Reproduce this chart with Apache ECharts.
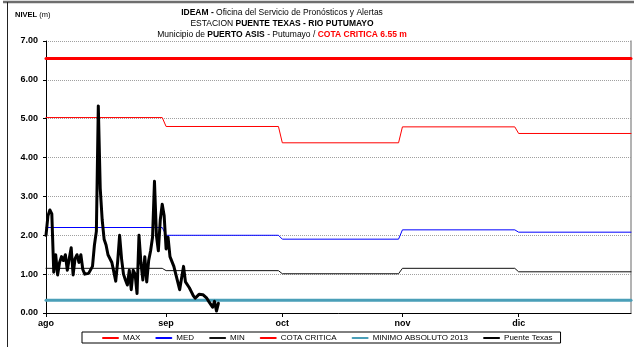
<!DOCTYPE html>
<html>
<head>
<meta charset="utf-8">
<script src="https://cdn.jsdelivr.net/npm/echarts@6/dist/echarts.min.js"></script>
<style>
  html, body { margin: 0; padding: 0; background: #ffffff; }
  #chart { width: 634px; height: 347px; }
</style>
</head>
<body>
<div id="chart"></div>
<script>
// Ejes: día 0 = 1 de agosto
const meses = ['ago', 'sep', 'oct', 'nov', 'dic'];
const inicioMes = [0, 31, 61, 92, 122];
const ultimoDia = 151;

// Niveles históricos mensuales (m)
const nivelMax = [5.03, 4.80, 4.38, 4.79, 4.62];
const nivelMed = [2.20, 2.00, 1.90, 2.14, 2.08];
const nivelMin = [1.15, 1.09, 1.01, 1.15, 1.06];

// Referencias fijas (m)
const cotaCritica = 6.55;
const minimoAbsoluto2013 = 0.33;

// Lecturas de la estación Puente Texas (dos lecturas diarias desde el 1 de agosto)
const lecturasPorDia = 2;
const puenteTexas = [
  2.00, 2.50, 2.65, 2.55, 1.05, 1.50, 0.98, 1.30, 1.45, 1.35,
  1.50, 1.10, 1.40, 1.68, 0.98, 1.40, 1.50, 1.30, 1.50, 1.12,
  1.00, 0.98, 1.02, 1.05, 1.20, 1.75, 2.10, 5.33, 3.20, 2.40,
  1.90, 1.75, 1.50, 1.55, 1.30, 1.30, 0.82, 1.32, 2.00, 1.40,
  1.00, 0.85, 0.72, 1.10, 0.60, 1.10, 1.00, 0.50, 2.00, 1.30,
  0.85, 1.45, 0.80, 1.35, 1.60, 1.95, 3.39, 2.00, 1.60, 2.40,
  2.80, 2.50, 1.65, 1.95, 1.45, 1.40, 1.20, 1.00, 0.80, 0.60,
  0.90, 1.20, 0.80, 0.85, 0.65, 0.55, 0.45, 0.38, 0.40, 0.48,
  0.50, 0.47, 0.42, 0.38, 0.30, 0.27, 0.15, 0.30, 0.05, 0.25
];

// Serie escalonada mes a mes
function serieMensual(valores) {
  const pts = [];
  for (let m = 0; m < valores.length; m++) {
    const desde = inicioMes[m];
    const hasta = m + 1 < inicioMes.length ? inicioMes[m + 1] - 1 : ultimoDia;
    pts.push([desde, valores[m]], [hasta, valores[m]]);
  }
  return pts;
}
function serieConstante(v) {
  return [[0, v], [ultimoDia, v]];
}
const serieTexas = puenteTexas.map((v, i) => [i / lecturasPorDia, v]);

const FUENTE = 'Liberation Sans, Arial, sans-serif';

function linea(nombre, datos, color, ancho, z) {
  return {
    name: nombre, type: 'line', data: datos, z: z,
    xAxisIndex: 0, yAxisIndex: 0,
    symbol: 'none', silent: true, animation: false,
    lineStyle: { color: color, width: ancho, join: 'round', cap: 'round' },
    itemStyle: { color: color }
  };
}

const chart = echarts.init(document.getElementById('chart'), null, { renderer: 'canvas' });
chart.setOption({
  animation: false,
  backgroundColor: '#ffffff',
  textStyle: { fontFamily: FUENTE },
  grid: { left: 46, right: 3, top: 41, bottom: 34, containLabel: false },
  xAxis: {
    type: 'value', min: 0, max: ultimoDia,
    axisLine: { show: true, onZero: false, lineStyle: { color: '#000', width: 1 } },
    axisTick: { show: true, length: 4, customValues: inicioMes, lineStyle: { color: '#000' } },
    axisLabel: {
      customValues: inicioMes, margin: 6,
      formatter: v => meses[inicioMes.indexOf(Math.round(v))] || '',
      fontSize: 9, fontWeight: 'bold', color: '#000', fontFamily: FUENTE
    },
    splitLine: { show: false }
  },
  yAxis: [{
    type: 'value', min: 0, max: 7, interval: 1,
    axisLine: { show: true, lineStyle: { color: '#000', width: 1 } },
    axisTick: { show: true, length: 3, lineStyle: { color: '#000' } },
    axisLabel: {
      formatter: v => v.toFixed(2), margin: 8,
      fontSize: 9, fontWeight: 'bold', color: '#000', fontFamily: FUENTE
    },
    splitLine: { show: true, lineStyle: { color: '#a0a0a0', type: 'dotted', width: 1 } }
  }, {
    type: 'value', min: 0, max: 7, position: 'right',
    axisLine: { show: true, lineStyle: { color: '#9a9a9a', width: 1.5 } },
    axisTick: { show: false }, axisLabel: { show: false }, splitLine: { show: false }
  }],
  legend: {
    left: 82, top: 332,
    padding: [2, 8, 1, 20],
    itemGap: 15, itemWidth: 15, itemHeight: 8,
    borderColor: '#000', borderWidth: 1,
    itemStyle: { opacity: 0 },
    textStyle: { fontSize: 8, color: '#000', fontFamily: FUENTE },
    data: ['MAX', 'MED', 'MIN', 'COTA CRITICA', 'MINIMO ABSOLUTO 2013', 'Puente Texas']
  },
  series: [
    linea('MAX', serieMensual(nivelMax), '#ff0000', 1, 3),
    linea('MED', serieMensual(nivelMed), '#0000ff', 1, 3),
    linea('MIN', serieMensual(nivelMin), '#111111', 1, 3),
    linea('COTA CRITICA', serieConstante(cotaCritica), '#ff0000', 3, 4),
    linea('MINIMO ABSOLUTO 2013', serieConstante(minimoAbsoluto2013), '#4a9fb8', 3, 4),
    linea('Puente Texas', serieTexas, '#000000', 3, 6)
  ],
  graphic: [
    { type: 'line', silent: true, shape: { x1: 3, y1: 2, x2: 634, y2: 2 },
      style: { stroke: '#6e6e6e', lineWidth: 2.5 } },
    { type: 'line', silent: true, shape: { x1: 7.5, y1: 2, x2: 7.5, y2: 347 },
      style: { stroke: '#222', lineWidth: 1 } },
    { type: 'text', silent: true, x: 15, y: 15,
      style: { text: '{b|NIVEL} (m)', fontSize: 7.5, fontFamily: FUENTE, fill: '#000',
        verticalAlign: 'middle', rich: { b: { fontWeight: 'bold', fontSize: 7.5, fontFamily: FUENTE, fill: '#000' } } } },
    { type: 'text', silent: true, x: 282, y: 13,
      style: { text: '{b|IDEAM -} Oficina del Servicio de Pronósticos y Alertas',
        fontSize: 8.5, fontFamily: FUENTE, fill: '#000', align: 'center', verticalAlign: 'middle',
        rich: { b: { fontWeight: 'bold', fontSize: 8.5, fontFamily: FUENTE, fill: '#000' } } } },
    { type: 'text', silent: true, x: 282, y: 24,
      style: { text: 'ESTACION {b|PUENTE TEXAS - RIO PUTUMAYO}',
        fontSize: 8.5, fontFamily: FUENTE, fill: '#000', align: 'center', verticalAlign: 'middle',
        rich: { b: { fontWeight: 'bold', fontSize: 8.5, fontFamily: FUENTE, fill: '#000' } } } },
    { type: 'text', silent: true, x: 282, y: 35,
      style: { text: 'Municipio de {b|PUERTO ASIS} - Putumayo / {r|COTA CRITICA 6.55 m}',
        fontSize: 8.5, fontFamily: FUENTE, fill: '#000', align: 'center', verticalAlign: 'middle',
        rich: {
          b: { fontWeight: 'bold', fontSize: 8.5, fontFamily: FUENTE, fill: '#000' },
          r: { fontWeight: 'bold', fontSize: 8.5, fontFamily: FUENTE, fill: '#ff0000' }
        } } }
  ]
});
</script>
</body>
</html>
